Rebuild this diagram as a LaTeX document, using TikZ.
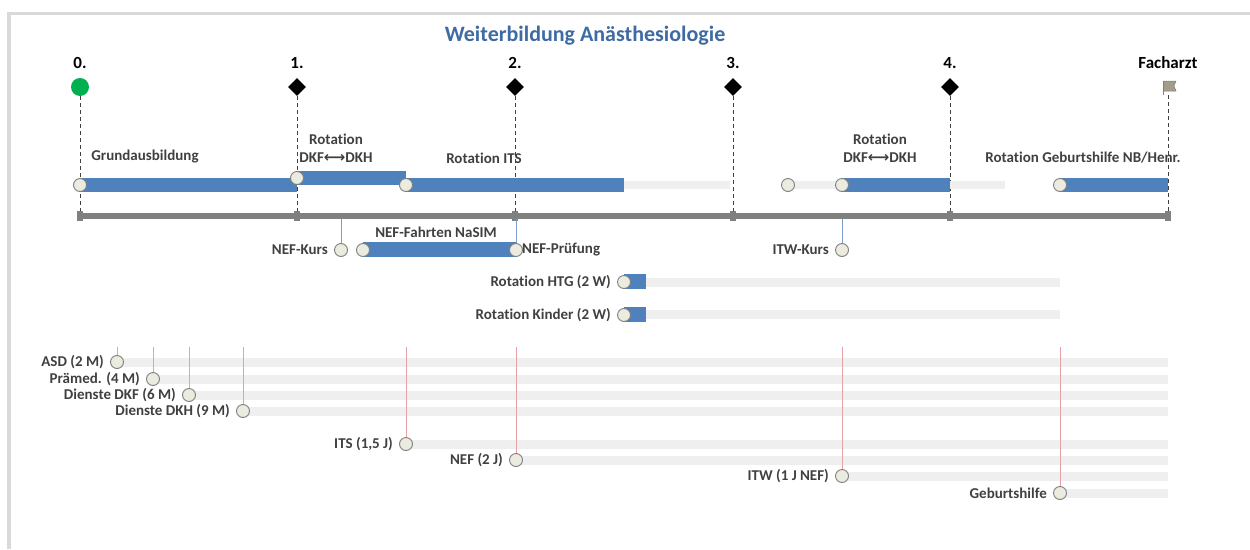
\documentclass[tikz,border=0pt]{standalone}
\usepackage{fontspec}
\setmainfont{Carlito}[Ligatures={NoCommon}]
\newfontfamily\djv{DejaVu Sans}
\usetikzlibrary{shapes.geometric}
\definecolor{barblue}{HTML}{4F81BD}
\definecolor{bargray}{HTML}{EFEFEF}
\definecolor{titleblue}{HTML}{3F6BA3}
\definecolor{lblgray}{HTML}{404040}
\definecolor{circfill}{HTML}{ECEBDF}
\definecolor{circdraw}{HTML}{7F7F7F}
\definecolor{axisgray}{HTML}{808080}
\definecolor{framegray}{HTML}{D9D9D9}
\definecolor{redline}{HTML}{E8A0A8}
\definecolor{greenms}{HTML}{00B050}
\definecolor{flagfill}{HTML}{A39D88}
\definecolor{dashgray}{HTML}{404040}
\newcommand{\lrarr}{{\djv\bfseries\char"27F7}}
\begin{document}
\begin{tikzpicture}[x=1pt,y=-1pt,
 circ/.style={circle, draw=circdraw, fill=circfill, line width=0.9pt, minimum size=13pt, inner sep=0pt},
 lbl/.style={font=\bfseries\fontsize{15}{17.5}\selectfont, text=lblgray, inner sep=0pt},
 mslbl/.style={font=\bfseries\fontsize{17}{20}\selectfont, text=black, inner sep=0pt},
 dia/.style={diamond, fill=black, minimum size=18pt, inner sep=0pt},
 axtick/.style={rectangle, fill=axisgray, minimum width=6pt, minimum height=10pt, inner sep=0pt},
 dashln/.style={draw=dashgray, dash pattern=on 4pt off 3pt, line width=0.9pt},
 blueln/.style={draw=barblue!75, line width=1pt},
 redln/.style={draw=redline, line width=1pt},
 bluebar/.style={fill=barblue},
 graybar/.style={fill=bargray},
]
\useasboundingbox (0,0) rectangle (1250,549);
% frame
\draw[framegray, line width=4pt] (9,549) -- (9,13);
\draw[framegray, line width=3pt] (7,13) -- (1250,13);

% title
\node[font=\bfseries\fontsize{22}{26}\selectfont, text=titleblue] (title) at (585,36) {Weiterbildung Anästhesiologie};

% milestone labels
\node[mslbl] (l0) at (80,63) {0.};
\node[mslbl] (l1) at (297,63) {1.};
\node[mslbl] (l2) at (515,63) {2.};
\node[mslbl] (l3) at (733,63) {3.};
\node[mslbl] (l4) at (950,63) {4.};
\node[mslbl] (l5) at (1168,63) {Facharzt};

% axis
\draw[axisgray, line width=6pt] (80,216) -- (1168,216);
\node[axtick] (t0) at (80,216) {};
\node[axtick] (t1) at (297,216) {};
\node[axtick] (t2) at (515,216) {};
\node[axtick] (t3) at (733,216) {};
\node[axtick] (t4) at (950,216) {};
\node[axtick] (t5) at (1168,216) {};

% milestone markers
\node[circle, fill=greenms, minimum size=18pt, inner sep=0pt] (m0) at (80,87) {};
\node[dia] (m1) at (297,87) {};
\node[dia] (m2) at (515,87) {};
\node[dia] (m3) at (733,87) {};
\node[dia] (m4) at (950,87) {};
\fill[flagfill, draw=circdraw, line width=0.5pt] (1163.5,81) -- (1176,81) -- (1174,86) -- (1176,91) -- (1163.5,91) -- cycle;
\draw[circdraw, line width=1.5pt] (1163.5,81) -- (1163.5,95);
\coordinate (m5) at (1168,95);

% dashed drop lines
\draw[dashln] (m0) -- (t0);
\draw[dashln] (m1) -- (t1);
\draw[dashln] (m2) -- (t2);
\draw[dashln] (m3) -- (t3);
\draw[dashln] (m4) -- (t4);
\draw[dashln] (m5) -- (t5);

% top row labels
\node[lbl] (lg) at (145,157) {Grundausbildung};
\node[lbl, align=center] (lr1) at (336,148) {Rotation\\DKF\lrarr DKH};
\node[lbl] (lits) at (484,158) {Rotation ITS};
\node[lbl, align=center] (lr2) at (880,148) {Rotation\\DKF\lrarr DKH};
\node[lbl] (lgeb) at (1083,158) {Rotation Geburtshilfe NB/Henr.};

% top row bars
\fill[bluebar] (80,178) rectangle (297,192);
\fill[bluebar] (297,171) rectangle (406,185);
\fill[graybar] (624,181) rectangle (730,189);
\fill[bluebar] (406,178) rectangle (624,192);
\fill[graybar] (788,181) rectangle (1005,189);
\fill[bluebar] (842,178) rectangle (950,192);
\fill[bluebar] (1060,178) rectangle (1168,192);
\node[circ] (cg) at (80,185) {};
\node[circ] (cr1) at (297,178) {};
\node[circ] (cits) at (406,185) {};
\node[circ] (cgap) at (788,185) {};
\node[circ] (cr2) at (842,185) {};
\node[circ] (cgeb) at (1060,185) {};

% NEF row
\coordinate (ak) at (341,219);
\coordinate (ap) at (516,219);
\coordinate (aw) at (842,219);
\fill[bluebar] (363,242) rectangle (516,257);
\node[circ] (cnk) at (341,250) {};
\node[circ] (cnf) at (363,250) {};
\node[circ] (cnp) at (516,250) {};
\node[circ] (citw) at (842,250) {};
\draw[blueln] (ak) -- (cnk);
\draw[blueln] (ap) -- (cnp);
\draw[blueln] (aw) -- (citw);
\node[lbl, anchor=east] (lnk) at ([xshift=-6pt]cnk.west) {NEF-Kurs};
\node[lbl] (lnf) at (436,232) {NEF-Fahrten NaSIM};
\node[lbl, anchor=west] (lnp) at ([xshift=-1pt]cnp.east) {NEF-Prüfung};
\node[lbl, anchor=east] (litw) at ([xshift=-6pt]citw.west) {ITW-Kurs};

% HTG / Kinder
\fill[graybar] (624,278) rectangle (1060,287);
\fill[bluebar] (624,274) rectangle (646,289);
\node[circ] (chtg) at (624,282) {};
\node[lbl, anchor=east] (lhtg) at ([xshift=-6pt]chtg.west) {Rotation HTG (2 W)};
\fill[graybar] (624,310) rectangle (1060,319);
\fill[bluebar] (624,307) rectangle (646,322);
\node[circ] (ckid) at (624,315) {};
\node[lbl, anchor=east] (lkid) at ([xshift=-6pt]ckid.west) {Rotation Kinder (2 W)};

% requirement rows
\foreach \nm/\x/\y/\txt in {asd/117/362/{ASD (2 M)}, pra/153/379/{Prämed. (4 M)}, dkf/189/395/{Dienste DKF (6 M)}, dkh/243/411/{Dienste DKH (9 M)}, its/406/444/{ITS (1,5 J)}, nef/516/460/{NEF (2 J)}, itw/842/476/{ITW (1 J NEF)}, geb/1060/493/{Geburtshilfe}}{
  \fill[graybar] (\x,\y-4.5) rectangle (1168,\y+4.5);
  \coordinate (r\nm) at (\x,347);
  \node[circ] (c\nm) at (\x,\y) {};
  \draw[redln] (r\nm) -- (c\nm);
  \node[lbl, anchor=east] (l\nm) at ([xshift=-6pt]c\nm.west) {\txt};
}
\end{tikzpicture}
\end{document}
